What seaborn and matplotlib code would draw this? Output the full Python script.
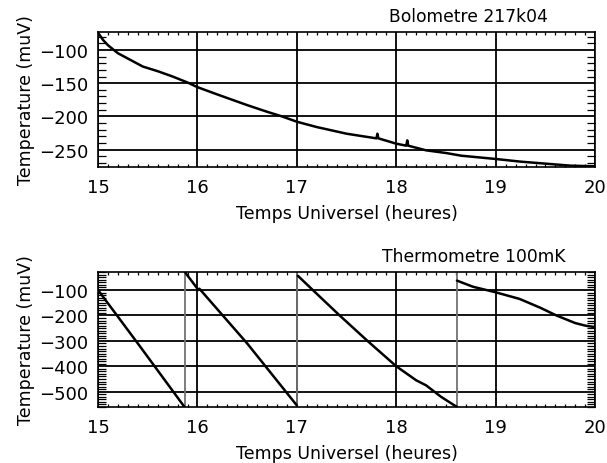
import numpy as np
import pandas as pd
import matplotlib
matplotlib.use("Agg")
import matplotlib.pyplot as plt
from matplotlib.ticker import MultipleLocator
import seaborn as sns

# --- donnees ---
bolo_t = [15.0, 15.05, 15.1, 15.15, 15.2, 15.3, 15.45, 15.6, 15.75, 15.9, 16.0,
          16.2, 16.5, 16.7, 16.85, 17.0, 17.2, 17.5, 17.8, 17.81, 17.82, 18.0,
          18.1, 18.11, 18.12, 18.3, 18.5, 18.65, 19.0, 19.25, 19.5, 19.75, 20.0]
bolo_v = [-74, -85, -93, -99, -105, -113, -125, -132, -140, -149, -156,
          -167, -183, -193, -200, -208, -216, -226, -233, -226, -233, -241,
          -244, -236, -244, -251, -255, -259, -264, -268, -271, -274, -275]

thermo_seg = [1, 1, 1,
              2, 2, 2, 2, 2,
              3, 3, 3, 3, 3, 3, 3, 3, 3,
              4, 4, 4, 4, 4, 4, 4, 4, 4]
thermo_t = [15.0, 15.4, 15.87,
            15.875, 16.01, 16.02, 16.5, 17.0,
            17.01, 17.16, 17.43, 17.71, 18.0, 18.2, 18.3, 18.45, 18.61,
            18.61, 18.77, 19.0, 19.24, 19.45, 19.61, 19.8, 19.9, 20.0]
thermo_v = [-100, -310, -560,
            -30, -100, -95, -310, -554,
            -44, -100, -200, -300, -400, -455, -475, -520, -560,
            -63, -87, -109, -135, -170, -200, -230, -240, -246]
resets = [15.87, 17.0, 18.61]

sns.set_theme(style="ticks")
plt.rcParams["font.family"] = ["DejaVu Sans"]
plt.rcParams["font.size"] = 12

df_bolo = pd.DataFrame({"t": bolo_t, "v": bolo_v})
df_thermo = pd.DataFrame({"seg": thermo_seg, "t": thermo_t, "v": thermo_v})

fig = plt.figure(figsize=(6.07, 4.64), dpi=100)
ax1 = fig.add_axes([0.1615, 0.638, 0.819, 0.291])
ax2 = fig.add_axes([0.1615, 0.1207, 0.819, 0.291])


def style_axes(ax, ylim, yticks, title, tx):
    ax.set_xlim(15, 20)
    ax.set_ylim(*ylim)
    ax.set_xticks([15, 16, 17, 18, 19, 20])
    ax.set_yticks(yticks)
    ax.xaxis.set_minor_locator(MultipleLocator(0.1))
    ax.yaxis.set_minor_locator(MultipleLocator(10))
    ax.grid(True, which="major", color="black", linewidth=1.3)
    ax.tick_params(which="both", direction="in", top=True, right=True,
                   color="black", labelsize=13, labelcolor="black")
    ax.tick_params(which="major", length=0)
    ax.tick_params(axis="x", which="major", pad=8)
    ax.tick_params(axis="y", which="major", pad=7)
    ax.tick_params(axis="x", which="minor", length=2.5, width=0.9)
    ax.tick_params(axis="y", which="minor", length=6, width=0.9)
    for s in ax.spines.values():
        s.set_color("black")
        s.set_linewidth(1.2)
    ax.set_xlabel("Temps Universel (heures)", fontsize=12.5, color="black", labelpad=6)
    ax.set_ylabel("Temperature (muV)", fontsize=12.5, color="black", labelpad=3)
    ax.text(tx, 1.05, title, transform=ax.transAxes, ha="right", va="bottom",
            fontsize=12.3, color="black")


sns.lineplot(data=df_bolo, x="t", y="v", ax=ax1, color="black", linewidth=1.8,
             sort=False, estimator=None)
style_axes(ax1, (-276, -73), [-100, -150, -200, -250], "Bolometre 217k04", 0.905)

ax2.vlines(resets, -560, -29, color="0.45", linewidth=1.3, zorder=2)
for seg, d in df_thermo.groupby("seg"):
    sns.lineplot(data=d, x="t", y="v", ax=ax2, color="black", linewidth=1.8,
                 sort=False, estimator=None)
style_axes(ax2, (-560, -29), [-100, -200, -300, -400, -500], "Thermometre 100mK", 0.94)

fig.savefig("out.png", dpi=100)
